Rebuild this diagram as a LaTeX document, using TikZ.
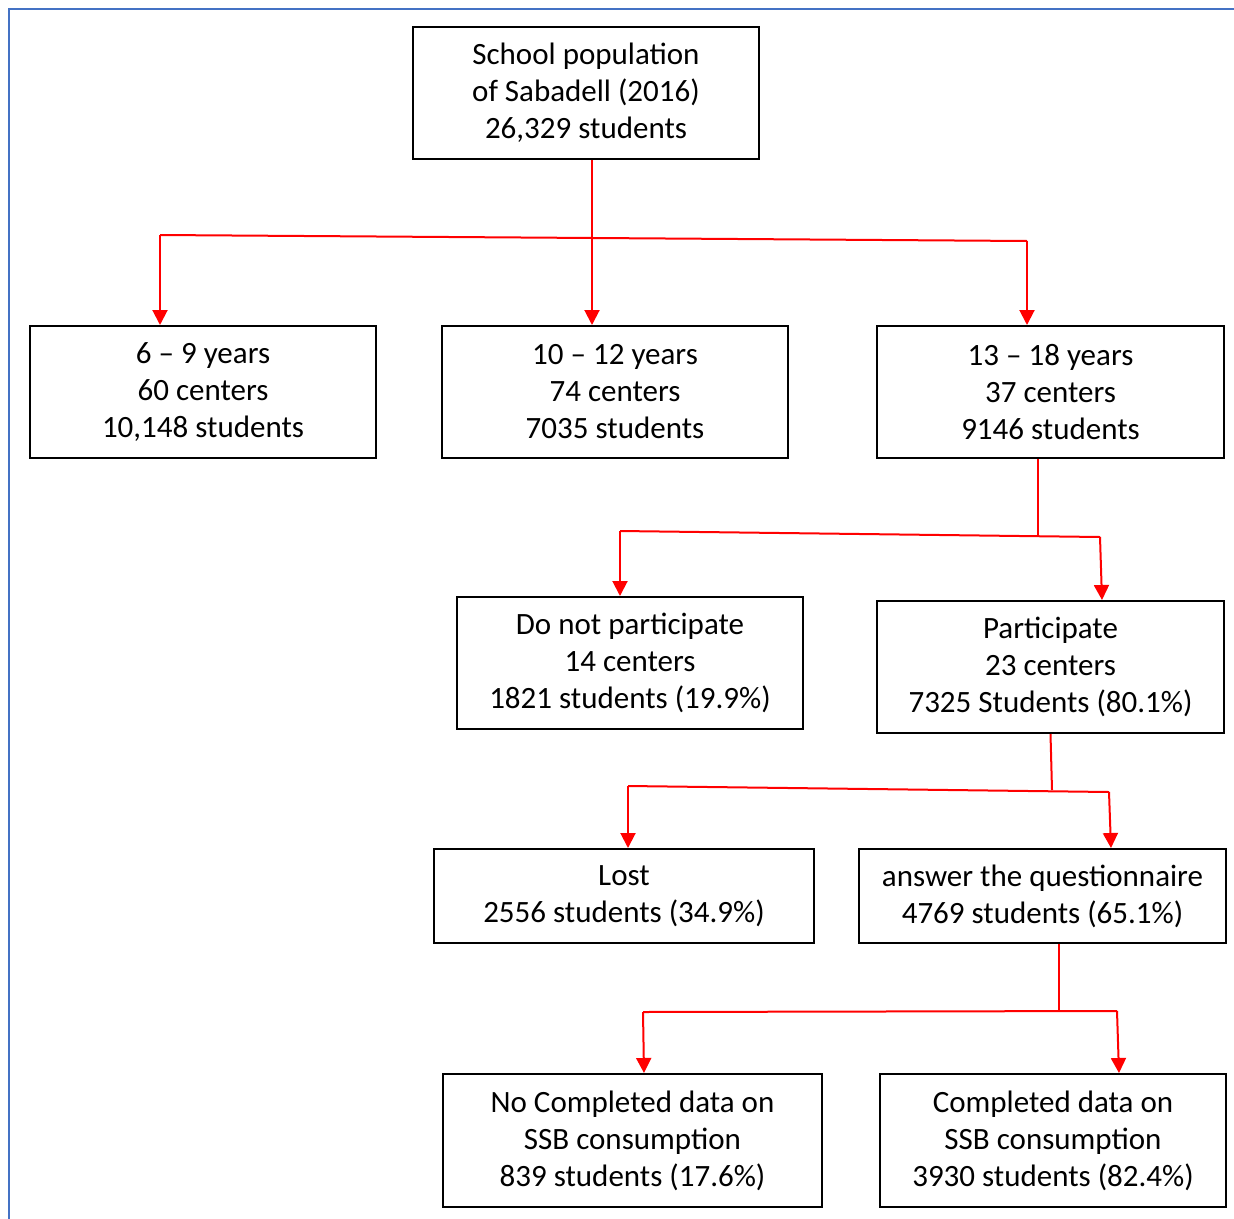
\documentclass[tikz,border=0pt]{standalone}
\usepackage{fontspec}
\setmainfont{Carlito}
\usetikzlibrary{arrows.meta}

\definecolor{framecol}{HTML}{4472C4}

\tikzset{
	box/.style={draw, line width=2pt, align=center, inner sep=0pt, font=\fontsize{31}{37}\selectfont},
	bar/.style={draw=red, line width=2pt},
	arr/.style={draw=red, line width=2pt, -{Triangle[length=15pt,width=15pt]}}
}

\begin{document}
\begin{tikzpicture}[x=1pt, y=-1pt]
			\useasboundingbox (0,0) rectangle (1234,1218);
			\draw[framecol, line width=2pt] (9,1240) -- (9,9) -- (1250,9);

			\draw (586, 93) 	node[box, minimum width=346pt, minimum height=132pt] 	(top) 	{School population\\of Sabadell (2016)\\26,329 students};
			\draw (203, 392) 	node[box, minimum width=346pt, minimum height=132pt] 	(age1) 	{6 -- 9 years\\60 centers\\10,148 students};
			\draw (615, 392) 	node[box, minimum width=346pt, minimum height=132pt] 	(age2) 	{10 -- 12 years\\74 centers\\7035 students};
			\draw (1050.5, 392) 	node[box, minimum width=347pt, minimum height=132pt] 	(age3) 	{13 -- 18 years\\37 centers\\9146 students};
			\draw (630, 663) 	node[box, minimum width=346pt, minimum height=132pt] 	(nopart) 	{Do not participate\\14 centers\\1821 students (19.9\%)};
			\draw (1050.5, 667) 	node[box, minimum width=347pt, minimum height=132pt] 	(part) 	{Participate\\23 centers\\7325 Students (80.1\%)};
			\draw (624, 896) 	node[box, minimum width=380pt, minimum height=94pt] 	(lost) 	{Lost\\2556 students (34.9\%)};
			\draw (1042.5, 896) 	node[box, minimum width=367pt, minimum height=94pt] 	(answer) 	{answer the questionnaire\\4769 students (65.1\%)};
			\draw (632.5, 1140.5) 	node[box, minimum width=379pt, minimum height=133pt] 	(nodata) 	{No Completed data on\\SSB consumption\\839 students (17.6\%)};
			\draw (1053, 1140.5) 	node[box, minimum width=346pt, minimum height=133pt] 	(data) 	{Completed data on\\SSB consumption\\3930 students (82.4\%)};

			% branch bars
			\coordinate (bar1l) at (160, 235);
			\coordinate (bar1r) at (1027, 241);
			\coordinate (bar2l) at (620, 531);
			\coordinate (bar2r) at (1100, 537);
			\coordinate (join2) at (1038, 536);
			\coordinate (bar3l) at (628, 786);
			\coordinate (bar3r) at (1109, 792);
			\coordinate (join3) at (1052, 790);
			\coordinate (bar4l) at (643, 1012);
			\coordinate (bar4r) at (1117, 1011);
			\coordinate (join4) at (1059, 1011.5);

			\draw[arr] ([xshift=6pt]top.south) -- ([xshift=-23pt]age2.north);
			\draw[bar] (bar1l) -- (bar1r);
			\draw[arr] (bar1l) -- ([xshift=-43pt]age1.north);
			\draw[arr] (bar1r) -- ([xshift=-23.5pt]age3.north);

			\draw[bar] ([xshift=-12.5pt]age3.south) -- (join2);
			\draw[bar] (bar2l) -- (bar2r);
			\draw[arr] (bar2l) -- ([xshift=-10pt]nopart.north);
			\draw[arr] (bar2r) -- ([xshift=51.5pt]part.north);

			\draw[bar] ([xshift=0pt]part.south) -- (join3);
			\draw[bar] (bar3l) -- (bar3r);
			\draw[arr] (bar3l) -- ([xshift=4pt]lost.north);
			\draw[arr] (bar3r) -- ([xshift=68.5pt]answer.north);

			\draw[bar] ([xshift=16.5pt]answer.south) -- (join4);
			\draw[bar] (bar4l) -- (bar4r);
			\draw[arr] (bar4l) -- ([xshift=11.5pt]nodata.north);
			\draw[arr] (bar4r) -- ([xshift=66pt]data.north);
		\end{tikzpicture}
\end{document}
